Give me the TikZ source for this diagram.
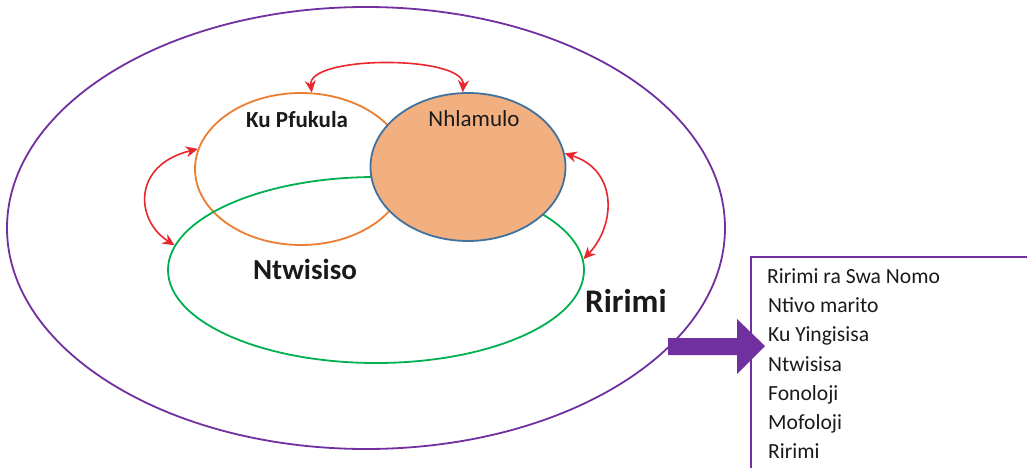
\documentclass[tikz,border=0pt]{standalone}
\usepackage{fontspec}
\setmainfont{Carlito}
\usetikzlibrary{shapes.geometric,arrows.meta}
\definecolor{cpurple}{HTML}{7030A0}
\definecolor{corange}{HTML}{ED7D31}
\definecolor{cgreen}{HTML}{00B050}
\definecolor{cblue}{HTML}{41719C}
\definecolor{cfill}{HTML}{F2AF7F}
\definecolor{cred}{HTML}{E8262D}
\definecolor{ctext}{HTML}{1A1A1A}
\tikzset{
  ell/.style={ellipse, inner sep=0pt, line width=1.8pt},
  redarr/.style={cred, line width=1.6pt, {Stealth[length=12pt,width=11pt]}-{Stealth[length=12pt,width=11pt]}},
  boxtxt/.style={anchor=base west, inner sep=0pt, font=\fontsize{21.6}{24}\selectfont, text=ctext},
}
\begin{document}
\begin{tikzpicture}[x=1pt,y=-1pt]
\path[use as bounding box, clip] (0,0) rectangle (1027,468);
\fill[white] (0,0) rectangle (1027,468);
% outer ellipse
\node[ell, draw=cpurple, minimum width=718, minimum height=442] (outer) at (366,228) {};
% Ku Pfukula
\node[ell, draw=corange, minimum width=212, minimum height=152] (pf) at (301,169) {};
% Ntwisiso
\node[ell, draw=cgreen, minimum width=416, minimum height=186] (nt) at (376,270) {};
% Nhlamulo
\node[ell, draw=cblue, fill=cfill, minimum width=195, minimum height=148] (nh) at (468,167) {};
% labels
\node[anchor=base, inner sep=0pt, font=\bfseries\fontsize{23}{26}\selectfont, text=ctext] (lpf) at (297,128) {Ku Pfukula};
\node[anchor=base, inner sep=0pt, font=\fontsize{23}{26}\selectfont, text=ctext] (lnh) at (474,126) {Nhlamulo};
\node[anchor=base, inner sep=0pt, font=\bfseries\fontsize{29}{32}\selectfont, text=ctext] (lnt) at (305,279) {Ntwisiso};
\node[anchor=base west, inner sep=0pt, font=\bfseries\fontsize{33}{36}\selectfont, text=ctext] (lri) at (585,312) {Ririmi};
% red double arrows
\draw[redarr] (pf.82) .. controls (307,55) and (465,55) .. (nh.94);
\draw[redarr] (pf.169) .. controls (132,165) and (135,220) .. (nt.173);
\draw[redarr] (nh.8) .. controls (618,170) and (616,225) .. (nt.3);
% list box
\node[draw=cpurple, line width=1.6pt, anchor=north west, minimum width=300, minimum height=240, inner sep=0pt] (box) at (750,256) {};
\node[boxtxt] (t1) at (767,283) {Ririmi ra Swa Nomo};
\node[boxtxt] (t2) at (768,312) {Ntivo marito};
\node[boxtxt] (t3) at (768,341) {Ku Yingisisa};
\node[boxtxt] (t4) at (768,371) {Ntwisisa};
\node[boxtxt] (t5) at (768,400) {Fonoloji};
\node[boxtxt] (t6) at (768,429) {Mofoloji};
\node[boxtxt] (t7) at (768,458) {Ririmi};
% block arrow
\fill[cpurple] (668,338) -- (737,338) -- (737,319) -- (765,346) -- (737,374) -- (737,355) -- (668,355) -- cycle;
\end{tikzpicture}
\end{document}
